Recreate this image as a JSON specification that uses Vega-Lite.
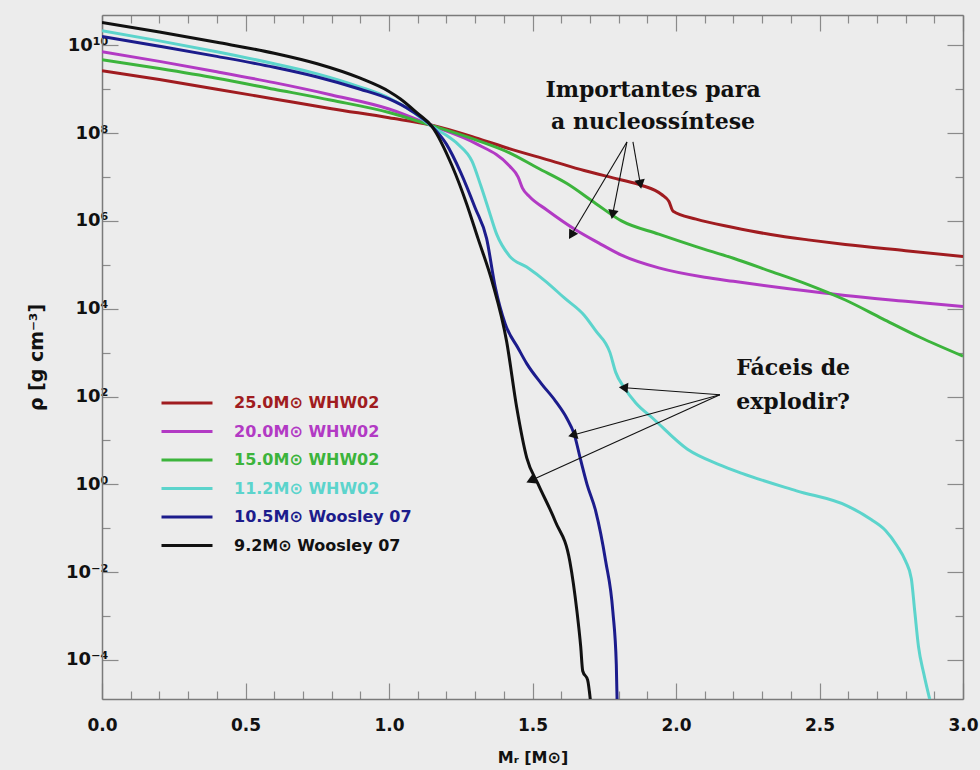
{
  "$schema": "https://vega.github.io/schema/vega-lite/v6.json",
  "width": 861,
  "height": 684,
  "autosize": {"type": "none"},
  "padding": {"left": 102, "top": 15, "right": 17, "bottom": 71},
  "background": "#ececec",
  "config": {"view": {"stroke": null}},
  "datasets": {
    "profiles": [
      {"model": "25.0M⊙ WHW02", "m": 0, "rho": 2.63e9},
      {"model": "25.0M⊙ WHW02", "m": 0.2, "rho": 1.66e9},
      {"model": "25.0M⊙ WHW02", "m": 0.4, "rho": 1.0e9},
      {"model": "25.0M⊙ WHW02", "m": 0.6, "rho": 6.0e8},
      {"model": "25.0M⊙ WHW02", "m": 0.8, "rho": 3.6e8},
      {"model": "25.0M⊙ WHW02", "m": 1.0, "rho": 2.24e8},
      {"model": "25.0M⊙ WHW02", "m": 1.15, "rho": 1.51e8},
      {"model": "25.0M⊙ WHW02", "m": 1.3, "rho": 7.9e7},
      {"model": "25.0M⊙ WHW02", "m": 1.43, "rho": 4.2e7},
      {"model": "25.0M⊙ WHW02", "m": 1.56, "rho": 2.4e7},
      {"model": "25.0M⊙ WHW02", "m": 1.68, "rho": 1.41e7},
      {"model": "25.0M⊙ WHW02", "m": 1.8, "rho": 8.9e6},
      {"model": "25.0M⊙ WHW02", "m": 1.88, "rho": 6.5e6},
      {"model": "25.0M⊙ WHW02", "m": 1.95, "rho": 4.0e6},
      {"model": "25.0M⊙ WHW02", "m": 1.975, "rho": 2.8e6},
      {"model": "25.0M⊙ WHW02", "m": 1.99, "rho": 1.66e6},
      {"model": "25.0M⊙ WHW02", "m": 2.07, "rho": 1.1e6},
      {"model": "25.0M⊙ WHW02", "m": 2.2, "rho": 7.1e5},
      {"model": "25.0M⊙ WHW02", "m": 2.33, "rho": 4.9e5},
      {"model": "25.0M⊙ WHW02", "m": 2.46, "rho": 3.7e5},
      {"model": "25.0M⊙ WHW02", "m": 2.59, "rho": 2.9e5},
      {"model": "25.0M⊙ WHW02", "m": 2.8, "rho": 2.1e5},
      {"model": "25.0M⊙ WHW02", "m": 3.0, "rho": 1.55e5},

      {"model": "20.0M⊙ WHW02", "m": 0, "rho": 7.1e9},
      {"model": "20.0M⊙ WHW02", "m": 0.2, "rho": 4.3e9},
      {"model": "20.0M⊙ WHW02", "m": 0.4, "rho": 2.5e9},
      {"model": "20.0M⊙ WHW02", "m": 0.6, "rho": 1.41e9},
      {"model": "20.0M⊙ WHW02", "m": 0.8, "rho": 7.4e8},
      {"model": "20.0M⊙ WHW02", "m": 1.0, "rho": 3.55e8},
      {"model": "20.0M⊙ WHW02", "m": 1.15, "rho": 1.48e8},
      {"model": "20.0M⊙ WHW02", "m": 1.3, "rho": 5.9e7},
      {"model": "20.0M⊙ WHW02", "m": 1.42, "rho": 1.78e7},
      {"model": "20.0M⊙ WHW02", "m": 1.45, "rho": 1.0e7},
      {"model": "20.0M⊙ WHW02", "m": 1.465, "rho": 5.6e6},
      {"model": "20.0M⊙ WHW02", "m": 1.49, "rho": 3.55e6},
      {"model": "20.0M⊙ WHW02", "m": 1.55, "rho": 1.78e6},
      {"model": "20.0M⊙ WHW02", "m": 1.65, "rho": 6.3e5},
      {"model": "20.0M⊙ WHW02", "m": 1.73, "rho": 3.16e5},
      {"model": "20.0M⊙ WHW02", "m": 1.81, "rho": 1.66e5},
      {"model": "20.0M⊙ WHW02", "m": 1.94, "rho": 8.5e4},
      {"model": "20.0M⊙ WHW02", "m": 2.1, "rho": 5.2e4},
      {"model": "20.0M⊙ WHW02", "m": 2.2, "rho": 4.2e4},
      {"model": "20.0M⊙ WHW02", "m": 2.4, "rho": 2.8e4},
      {"model": "20.0M⊙ WHW02", "m": 2.59, "rho": 2.0e4},
      {"model": "20.0M⊙ WHW02", "m": 2.8, "rho": 1.48e4},
      {"model": "20.0M⊙ WHW02", "m": 3.0, "rho": 1.12e4},

      {"model": "15.0M⊙ WHW02", "m": 0, "rho": 4.7e9},
      {"model": "15.0M⊙ WHW02", "m": 0.2, "rho": 2.95e9},
      {"model": "15.0M⊙ WHW02", "m": 0.4, "rho": 1.78e9},
      {"model": "15.0M⊙ WHW02", "m": 0.6, "rho": 1.0e9},
      {"model": "15.0M⊙ WHW02", "m": 0.8, "rho": 5.6e8},
      {"model": "15.0M⊙ WHW02", "m": 1.0, "rho": 2.95e8},
      {"model": "15.0M⊙ WHW02", "m": 1.15, "rho": 1.48e8},
      {"model": "15.0M⊙ WHW02", "m": 1.3, "rho": 7.1e7},
      {"model": "15.0M⊙ WHW02", "m": 1.42, "rho": 3.55e7},
      {"model": "15.0M⊙ WHW02", "m": 1.52, "rho": 1.58e7},
      {"model": "15.0M⊙ WHW02", "m": 1.62, "rho": 7.1e6},
      {"model": "15.0M⊙ WHW02", "m": 1.72, "rho": 2.5e6},
      {"model": "15.0M⊙ WHW02", "m": 1.81, "rho": 1.0e6},
      {"model": "15.0M⊙ WHW02", "m": 1.94, "rho": 5.0e5},
      {"model": "15.0M⊙ WHW02", "m": 2.07, "rho": 2.6e5},
      {"model": "15.0M⊙ WHW02", "m": 2.2, "rho": 1.41e5},
      {"model": "15.0M⊙ WHW02", "m": 2.33, "rho": 7.1e4},
      {"model": "15.0M⊙ WHW02", "m": 2.46, "rho": 3.55e4},
      {"model": "15.0M⊙ WHW02", "m": 2.59, "rho": 1.58e4},
      {"model": "15.0M⊙ WHW02", "m": 2.72, "rho": 5.9e3},
      {"model": "15.0M⊙ WHW02", "m": 2.85, "rho": 2.24e3},
      {"model": "15.0M⊙ WHW02", "m": 3.0, "rho": 832},

      {"model": "11.2M⊙ WHW02", "m": 0, "rho": 2.14e10},
      {"model": "11.2M⊙ WHW02", "m": 0.2, "rho": 1.26e10},
      {"model": "11.2M⊙ WHW02", "m": 0.4, "rho": 7.1e9},
      {"model": "11.2M⊙ WHW02", "m": 0.6, "rho": 3.8e9},
      {"model": "11.2M⊙ WHW02", "m": 0.75, "rho": 2.24e9},
      {"model": "11.2M⊙ WHW02", "m": 0.9, "rho": 1.12e9},
      {"model": "11.2M⊙ WHW02", "m": 1.0, "rho": 6.3e8},
      {"model": "11.2M⊙ WHW02", "m": 1.08, "rho": 3.16e8},
      {"model": "11.2M⊙ WHW02", "m": 1.15, "rho": 1.41e8},
      {"model": "11.2M⊙ WHW02", "m": 1.2, "rho": 8.9e7},
      {"model": "11.2M⊙ WHW02", "m": 1.24, "rho": 5.6e7},
      {"model": "11.2M⊙ WHW02", "m": 1.29, "rho": 2.24e7},
      {"model": "11.2M⊙ WHW02", "m": 1.32, "rho": 6.3e6},
      {"model": "11.2M⊙ WHW02", "m": 1.345, "rho": 2.0e6},
      {"model": "11.2M⊙ WHW02", "m": 1.375, "rho": 5.0e5},
      {"model": "11.2M⊙ WHW02", "m": 1.42, "rho": 1.58e5},
      {"model": "11.2M⊙ WHW02", "m": 1.48, "rho": 8.9e4},
      {"model": "11.2M⊙ WHW02", "m": 1.55, "rho": 4.0e4},
      {"model": "11.2M⊙ WHW02", "m": 1.61, "rho": 1.78e4},
      {"model": "11.2M⊙ WHW02", "m": 1.68, "rho": 7.1e3},
      {"model": "11.2M⊙ WHW02", "m": 1.72, "rho": 3.16e3},
      {"model": "11.2M⊙ WHW02", "m": 1.77, "rho": 1.0e3},
      {"model": "11.2M⊙ WHW02", "m": 1.79, "rho": 355},
      {"model": "11.2M⊙ WHW02", "m": 1.82, "rho": 158},
      {"model": "11.2M⊙ WHW02", "m": 1.86, "rho": 71},
      {"model": "11.2M⊙ WHW02", "m": 1.92, "rho": 31.6},
      {"model": "11.2M⊙ WHW02", "m": 2.04, "rho": 6.3},
      {"model": "11.2M⊙ WHW02", "m": 2.15, "rho": 2.82},
      {"model": "11.2M⊙ WHW02", "m": 2.23, "rho": 1.78},
      {"model": "11.2M⊙ WHW02", "m": 2.42, "rho": 0.71},
      {"model": "11.2M⊙ WHW02", "m": 2.6, "rho": 0.316},
      {"model": "11.2M⊙ WHW02", "m": 2.68, "rho": 0.158},
      {"model": "11.2M⊙ WHW02", "m": 2.73, "rho": 0.089},
      {"model": "11.2M⊙ WHW02", "m": 2.77, "rho": 0.04},
      {"model": "11.2M⊙ WHW02", "m": 2.8, "rho": 0.0178},
      {"model": "11.2M⊙ WHW02", "m": 2.82, "rho": 0.0071},
      {"model": "11.2M⊙ WHW02", "m": 2.832, "rho": 0.00126},
      {"model": "11.2M⊙ WHW02", "m": 2.845, "rho": 0.0002},
      {"model": "11.2M⊙ WHW02", "m": 2.863, "rho": 0.00005},
      {"model": "11.2M⊙ WHW02", "m": 2.888, "rho": 0.00001},

      {"model": "10.5M⊙ Woosley 07", "m": 0, "rho": 1.58e10},
      {"model": "10.5M⊙ Woosley 07", "m": 0.2, "rho": 9.5e9},
      {"model": "10.5M⊙ Woosley 07", "m": 0.4, "rho": 5.6e9},
      {"model": "10.5M⊙ Woosley 07", "m": 0.6, "rho": 3.16e9},
      {"model": "10.5M⊙ Woosley 07", "m": 0.75, "rho": 1.9e9},
      {"model": "10.5M⊙ Woosley 07", "m": 0.9, "rho": 1.0e9},
      {"model": "10.5M⊙ Woosley 07", "m": 1.0, "rho": 6.0e8},
      {"model": "10.5M⊙ Woosley 07", "m": 1.08, "rho": 3.16e8},
      {"model": "10.5M⊙ Woosley 07", "m": 1.15, "rho": 1.41e8},
      {"model": "10.5M⊙ Woosley 07", "m": 1.2, "rho": 5.6e7},
      {"model": "10.5M⊙ Woosley 07", "m": 1.25, "rho": 1.26e7},
      {"model": "10.5M⊙ Woosley 07", "m": 1.3, "rho": 2.0e6},
      {"model": "10.5M⊙ Woosley 07", "m": 1.34, "rho": 4.0e5},
      {"model": "10.5M⊙ Woosley 07", "m": 1.37, "rho": 3.16e4},
      {"model": "10.5M⊙ Woosley 07", "m": 1.405, "rho": 4.5e3},
      {"model": "10.5M⊙ Woosley 07", "m": 1.45, "rho": 1.26e3},
      {"model": "10.5M⊙ Woosley 07", "m": 1.48, "rho": 562},
      {"model": "10.5M⊙ Woosley 07", "m": 1.53, "rho": 200},
      {"model": "10.5M⊙ Woosley 07", "m": 1.58, "rho": 79},
      {"model": "10.5M⊙ Woosley 07", "m": 1.62, "rho": 31.6},
      {"model": "10.5M⊙ Woosley 07", "m": 1.645, "rho": 14.1},
      {"model": "10.5M⊙ Woosley 07", "m": 1.668, "rho": 3.55},
      {"model": "10.5M⊙ Woosley 07", "m": 1.69, "rho": 1.0},
      {"model": "10.5M⊙ Woosley 07", "m": 1.72, "rho": 0.25},
      {"model": "10.5M⊙ Woosley 07", "m": 1.755, "rho": 0.0178},
      {"model": "10.5M⊙ Woosley 07", "m": 1.78, "rho": 0.00126},
      {"model": "10.5M⊙ Woosley 07", "m": 1.792, "rho": 0.000079},
      {"model": "10.5M⊙ Woosley 07", "m": 1.795, "rho": 0.00001},

      {"model": "\u20079.2M⊙ Woosley 07", "m": 0, "rho": 3.31e10},
      {"model": "\u20079.2M⊙ Woosley 07", "m": 0.2, "rho": 2.0e10},
      {"model": "\u20079.2M⊙ Woosley 07", "m": 0.4, "rho": 1.17e10},
      {"model": "\u20079.2M⊙ Woosley 07", "m": 0.6, "rho": 6.6e9},
      {"model": "\u20079.2M⊙ Woosley 07", "m": 0.75, "rho": 3.8e9},
      {"model": "\u20079.2M⊙ Woosley 07", "m": 0.9, "rho": 1.78e9},
      {"model": "\u20079.2M⊙ Woosley 07", "m": 1.0, "rho": 8.9e8},
      {"model": "\u20079.2M⊙ Woosley 07", "m": 1.04, "rho": 6.0e8},
      {"model": "\u20079.2M⊙ Woosley 07", "m": 1.1, "rho": 2.8e8},
      {"model": "\u20079.2M⊙ Woosley 07", "m": 1.15, "rho": 1.41e8},
      {"model": "\u20079.2M⊙ Woosley 07", "m": 1.22, "rho": 1.78e7},
      {"model": "\u20079.2M⊙ Woosley 07", "m": 1.27, "rho": 2.5e6},
      {"model": "\u20079.2M⊙ Woosley 07", "m": 1.31, "rho": 4.0e5},
      {"model": "\u20079.2M⊙ Woosley 07", "m": 1.36, "rho": 4.0e4},
      {"model": "\u20079.2M⊙ Woosley 07", "m": 1.41, "rho": 1.78e3},
      {"model": "\u20079.2M⊙ Woosley 07", "m": 1.445, "rho": 56},
      {"model": "\u20079.2M⊙ Woosley 07", "m": 1.48, "rho": 4.0},
      {"model": "\u20079.2M⊙ Woosley 07", "m": 1.52, "rho": 1.0},
      {"model": "\u20079.2M⊙ Woosley 07", "m": 1.58, "rho": 0.141},
      {"model": "\u20079.2M⊙ Woosley 07", "m": 1.63, "rho": 0.0178},
      {"model": "\u20079.2M⊙ Woosley 07", "m": 1.655, "rho": 0.00126},
      {"model": "\u20079.2M⊙ Woosley 07", "m": 1.668, "rho": 0.0002},
      {"model": "\u20079.2M⊙ Woosley 07", "m": 1.675, "rho": 0.000056},
      {"model": "\u20079.2M⊙ Woosley 07", "m": 1.692, "rho": 0.000035},
      {"model": "\u20079.2M⊙ Woosley 07", "m": 1.703, "rho": 0.00001}
    ],
    "notes": [
      {"m": 1.92, "rho": 9.8e8, "text": "Importantes para"},
      {"m": 1.92, "rho": 1.8e8, "text": "a nucleossíntese"},
      {"m": 2.408, "rho": 447, "text": "Fáceis de"},
      {"m": 2.408, "rho": 76, "text": "explodir?"}
    ],
    "arrows": [
      {"m": 1.85, "rho": 6.3e7, "m2": 1.875, "rho2": 7.4e6, "angle": 170},
      {"m": 1.829, "rho": 6.3e7, "m2": 1.78, "rho2": 1.51e6, "angle": 191},
      {"m": 1.829, "rho": 6.3e7, "m2": 1.638, "rho2": 5.1e5, "angle": 211},
      {"m": 2.153, "rho": 110, "m2": 1.822, "rho2": 158, "angle": 275},
      {"m": 2.153, "rho": 110, "m2": 1.645, "rho2": 13.5, "angle": 255},
      {"m": 2.153, "rho": 110, "m2": 1.498, "rho2": 1.26, "angle": 246}
    ]
  },
  "layer": [
    {
      "data": {"name": "profiles"},
      "mark": {"type": "line", "strokeWidth": 3, "interpolate": "monotone", "clip": true},
      "encoding": {
        "x": {
          "field": "m", "type": "quantitative",
          "scale": {"domain": [0, 3], "nice": false, "zero": false},
          "axis": {
            "orient": "bottom",
            "title": "Mᵣ [M⊙]",
            "values": [0,0.1,0.2,0.3,0.4,0.5,0.6,0.7,0.8,0.9,1,1.1,1.2,1.3,1.4,1.5,1.6,1.7,1.8,1.9,2,2.1,2.2,2.3,2.4,2.5,2.6,2.7,2.8,2.9,3],
            "labelExpr": "abs(datum.value*2-round(datum.value*2))<1e-6 ? format(datum.value,'.1f') : ''",
            "tickSize": {"condition": {"test": "abs(datum.value*2-round(datum.value*2))<1e-6", "value": -16}, "value": -8},
            "tickColor": "#8a8a8a", "tickWidth": 1.2,
            "domainColor": "#7a7a7a", "domainWidth": 1.5,
            "grid": false, "labelFlush": false, "labelOverlap": false, "labelBound": false,
            "labelFont": "DejaVu Sans", "labelFontWeight": "bold", "labelFontSize": 17, "labelColor": "#111111",
            "labelPadding": 34,
            "titleFont": "DejaVu Sans", "titleFontWeight": "bold", "titleFontSize": 16, "titleColor": "#111111",
            "titlePadding": 8
          }
        },
        "y": {
          "field": "rho", "type": "quantitative",
          "scale": {"type": "log", "domain": [1.29e-5, 4.9e10], "nice": false},
          "axis": {
            "orient": "left",
            "title": "ρ [g cm⁻³]",
            "values": [1e-4,1e-3,1e-2,1e-1,1,10,100,1000,1e4,1e5,1e6,1e7,1e8,1e9,1e10],
            "labelExpr": "round(log(datum.value)/LN10)==10 ? '10¹⁰' : round(log(datum.value)/LN10)==8 ? '10⁸' : round(log(datum.value)/LN10)==6 ? '10⁶' : round(log(datum.value)/LN10)==4 ? '10⁴' : round(log(datum.value)/LN10)==2 ? '10²' : round(log(datum.value)/LN10)==0 ? '10⁰' : round(log(datum.value)/LN10)==-2 ? '10⁻²' : round(log(datum.value)/LN10)==-4 ? '10⁻⁴' : ''",
            "tickSize": {"condition": {"test": "round(log(datum.value)/LN10)%2==0", "value": -16}, "value": -8},
            "tickColor": "#8a8a8a", "tickWidth": 1.2,
            "domainColor": "#7a7a7a", "domainWidth": 1.5,
            "grid": false, "labelFlush": false, "labelOverlap": false, "labelBound": false,
            "labelFont": "DejaVu Sans", "labelFontWeight": "bold", "labelFontSize": 18, "labelColor": "#111111",
            "labelPadding": 10,
            "titleFont": "DejaVu Sans", "titleFontWeight": "bold", "titleFontSize": 19, "titleColor": "#111111",
            "titlePadding": 19
          }
        },
        "color": {
          "field": "model", "type": "nominal",
          "scale": {
            "domain": ["25.0M⊙ WHW02", "20.0M⊙ WHW02", "15.0M⊙ WHW02", "11.2M⊙ WHW02", "10.5M⊙ Woosley 07", "\u20079.2M⊙ Woosley 07"],
            "range": ["#a01c20", "#b23ac4", "#3cb43c", "#5cd4cc", "#1c1c8c", "#111111"]
          },
          "legend": {
            "orient": "none", "legendX": 75, "legendY": 378,
            "title": null, "padding": 0,
            "symbolType": "M-3,0H3", "symbolSize": 289, "symbolStrokeWidth": 3,
            "labelFont": "DejaVu Sans", "labelFontWeight": "bold", "labelFontSize": 16,
            "labelOffset": 37, "rowPadding": 10.5, "labelLimit": 300,
            "encode": {"labels": {"update": {"fill": {"scale": "color", "field": "value"}}}}
          }
        }
      }
    },
    {
      "data": {"name": "profiles"},
      "mark": {"type": "line", "opacity": 0},
      "encoding": {
        "x": {
          "field": "m", "type": "quantitative",
          "scale": {"domain": [0, 3], "nice": false, "zero": false},
          "axis": {
            "orient": "top", "title": null, "labels": false,
            "values": [0,0.1,0.2,0.3,0.4,0.5,0.6,0.7,0.8,0.9,1,1.1,1.2,1.3,1.4,1.5,1.6,1.7,1.8,1.9,2,2.1,2.2,2.3,2.4,2.5,2.6,2.7,2.8,2.9,3],
            "tickSize": {"condition": {"test": "abs(datum.value*2-round(datum.value*2))<1e-6", "value": -16}, "value": -8},
            "tickColor": "#8a8a8a", "tickWidth": 1.2,
            "domainColor": "#7a7a7a", "domainWidth": 1.5, "grid": false
          }
        },
        "y": {
          "field": "rho", "type": "quantitative",
          "scale": {"type": "log", "domain": [1.29e-5, 4.9e10], "nice": false},
          "axis": {
            "orient": "right", "title": null, "labels": false,
            "values": [1e-4,1e-3,1e-2,1e-1,1,10,100,1000,1e4,1e5,1e6,1e7,1e8,1e9,1e10],
            "tickSize": {"condition": {"test": "round(log(datum.value)/LN10)%2==0", "value": -16}, "value": -8},
            "tickColor": "#8a8a8a", "tickWidth": 1.2,
            "domainColor": "#7a7a7a", "domainWidth": 1.5, "grid": false
          }
        },
        "detail": {"field": "model", "type": "nominal"}
      }
    },
    {
      "data": {"name": "arrows"},
      "mark": {"type": "rule", "color": "#111111", "strokeWidth": 1.1},
      "encoding": {
        "x": {"field": "m", "type": "quantitative", "scale": {"domain": [0, 3], "nice": false, "zero": false}, "axis": null},
        "y": {"field": "rho", "type": "quantitative", "scale": {"type": "log", "domain": [1.29e-5, 4.9e10], "nice": false}, "axis": null},
        "x2": {"field": "m2"},
        "y2": {"field": "rho2"}
      }
    },
    {
      "data": {"name": "arrows"},
      "mark": {"type": "point", "shape": "triangle", "filled": true, "color": "#111111", "size": 110, "opacity": 1},
      "encoding": {
        "x": {"field": "m2", "type": "quantitative", "scale": {"domain": [0, 3], "nice": false, "zero": false}, "axis": null},
        "y": {"field": "rho2", "type": "quantitative", "scale": {"type": "log", "domain": [1.29e-5, 4.9e10], "nice": false}, "axis": null},
        "angle": {"field": "angle", "type": "quantitative", "scale": null}
      }
    },
    {
      "data": {"name": "notes"},
      "mark": {"type": "text", "font": "DejaVu Serif", "fontWeight": "bold", "fontSize": 22, "color": "#111111", "align": "center", "baseline": "middle"},
      "encoding": {
        "x": {"field": "m", "type": "quantitative", "scale": {"domain": [0, 3], "nice": false, "zero": false}, "axis": null},
        "y": {"field": "rho", "type": "quantitative", "scale": {"type": "log", "domain": [1.29e-5, 4.9e10], "nice": false}, "axis": null},
        "text": {"field": "text", "type": "nominal"}
      }
    }
  ],
  "resolve": {"axis": {"x": "independent", "y": "independent"}}
}
